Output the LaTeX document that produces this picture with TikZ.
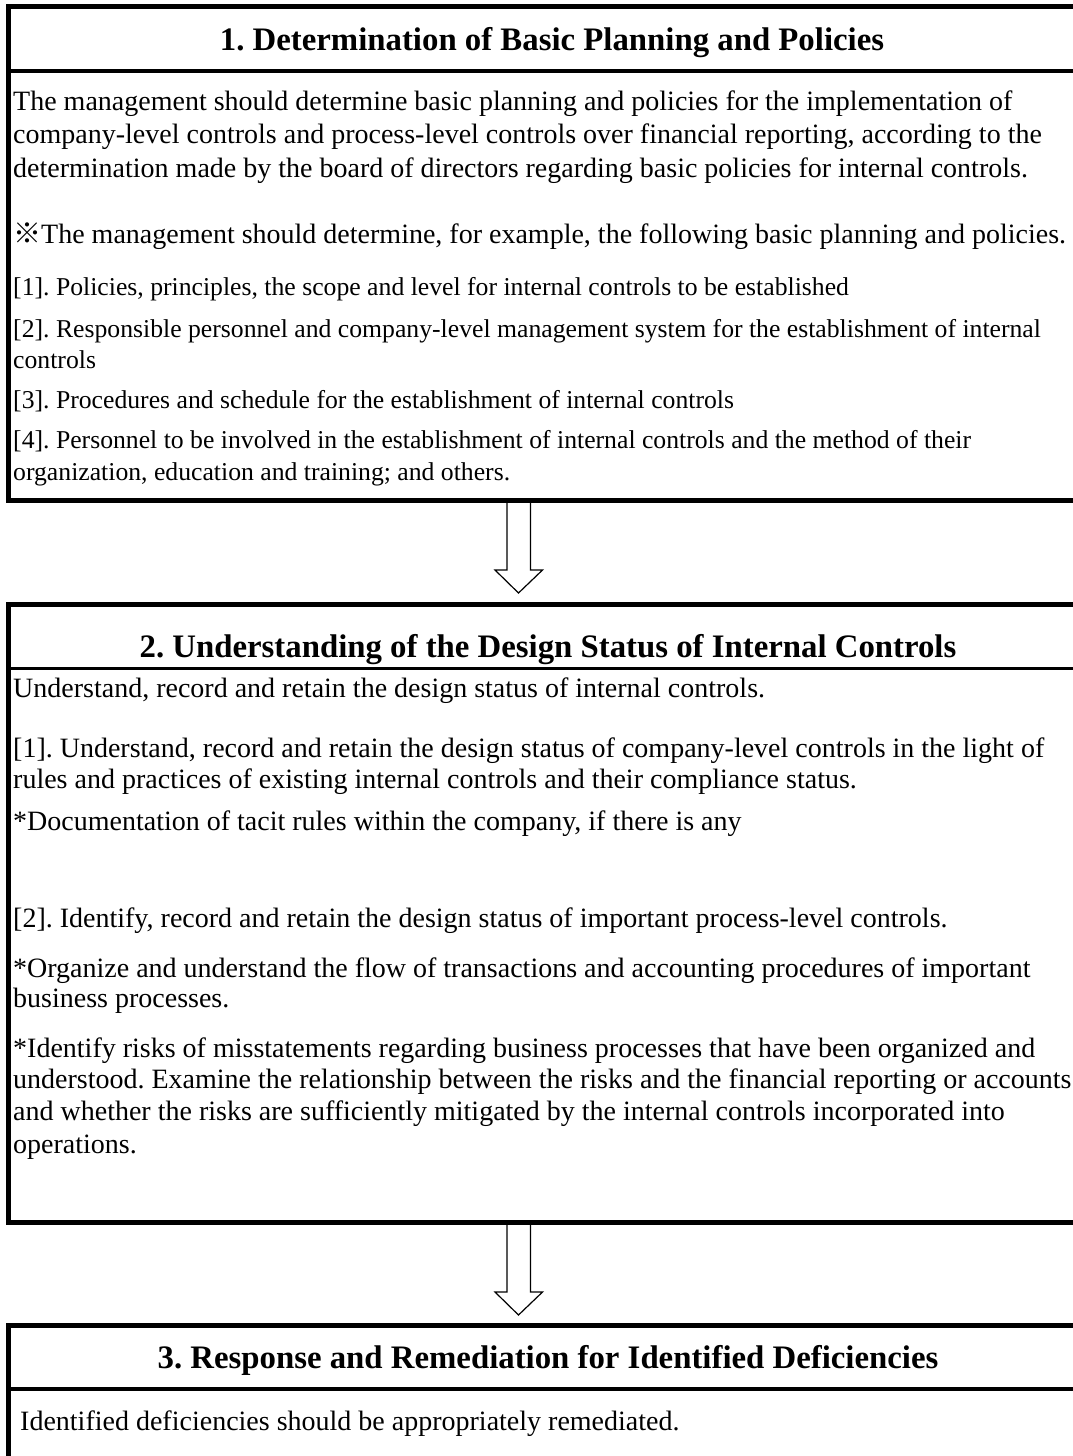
\documentclass[tikz,border=0pt]{standalone}
\usepackage{fontspec}
\setmainfont{Liberation Serif}
\newfontfamily\cjkfont{Noto Sans CJK JP}
\frenchspacing

\begin{document}
\begin{tikzpicture}[x=1pt,y=-1pt,
	frame/.style={line width=5pt},
	rule/.style={line width=3.5pt},
	head/.style={anchor=base,inner sep=0,font=\fontsize{32.8}{38}\selectfont\bfseries},
	body/.style={anchor=base west,inner sep=0,font=\fontsize{28}{32}\selectfont},
	item/.style={body,font=\fontsize{25.7}{30}\selectfont},
	blockarrow/.style={draw,line width=1.2pt,fill=white}]
	\useasboundingbox (0,0) rectangle (1073,1456);
	% connector points
	\coordinate (out1) at (518.5,500.5);
	\coordinate (in2) at (518.5,593);
	\coordinate (out2) at (518.5,1222);
	\coordinate (in3) at (518.5,1315);
	\draw[blockarrow] (out1) ++(-11.5,0) -- ++(0,69.5) -- ++(-12,0) -- (in2) -- ++(24,-23) -- ++(-12,0) -- ++(0,-69.5) -- cycle;
	\draw[blockarrow] (out2) ++(-11.5,0) -- ++(0,70) -- ++(-12,0) -- (in3) -- ++(24,-23) -- ++(-12,0) -- ++(0,-70) -- cycle;
	% box 1
	\draw[frame] (8.5,6.5) rectangle (1100,500.5);
	\draw[rule] (8.5,71) -- (1100,71);
	\node[head] (h1) at (552,50) {1. Determination of Basic Planning and Policies};
	\node[body] (p1a) at (13,110) {The management should determine basic planning and policies for the implementation of};
	\node[body] (p1b) at (13,143) {company-level controls and process-level controls over financial reporting, according to the};
	\node[body] (p1c) at (13,177) {determination made by the board of directors regarding basic policies for internal controls.};
	\node[body] (p1d) at (13,243) {{\cjkfont ※}The management should determine, for example, the following basic planning and policies.};
	\node[item] (p1e) at (13,295) {[1]. Policies, principles, the scope and level for internal controls to be established};
	\node[item] (p1f) at (13,337) {[2]. Responsible personnel and company-level management system for the establishment of internal};
	\node[item] (p1g) at (13,368) {controls};
	\node[item] (p1h) at (13,408) {[3]. Procedures and schedule for the establishment of internal controls};
	\node[item] (p1i) at (13,448) {[4]. Personnel to be involved in the establishment of internal controls and the method of their};
	\node[item] (p1j) at (13,480) {organization, education and training; and others.};
	% box 2
	\draw[frame] (8.5,604) rectangle (1100,1222);
	\draw[rule] (8.5,668.5) -- (1100,668.5);
	\node[head] (h2) at (548,657) {2. Understanding of the Design Status of Internal Controls};
	\node[body] (p2a) at (13,697) {Understand, record and retain the design status of internal controls.};
	\node[body] (p2b) at (13,757) {[1]. Understand, record and retain the design status of company-level controls in the light of};
	\node[body] (p2c) at (13,788) {rules and practices of existing internal controls and their compliance status.};
	\node[body] (p2d) at (13,830) {*Documentation of tacit rules within the company, if there is any};
	\node[body] (p2e) at (13,927) {[2]. Identify, record and retain the design status of important process-level controls.};
	\node[body] (p2f) at (13,977) {*Organize and understand the flow of transactions and accounting procedures of important};
	\node[body] (p2g) at (13,1007) {business processes.};
	\node[body] (p2h) at (13,1057) {*Identify risks of misstatements regarding business processes that have been organized and};
	\node[body] (p2i) at (13,1088) {understood. Examine the relationship between the risks and the financial reporting or accounts};
	\node[body] (p2j) at (13,1120) {and whether the risks are sufficiently mitigated by the internal controls incorporated into};
	\node[body] (p2k) at (13,1153) {operations.};
	% box 3
	\draw[frame] (8.5,1325) rectangle (1100,1500);
	\draw[rule] (8.5,1389) -- (1100,1389);
	\node[head] (h3) at (548,1368) {3. Response and Remediation for Identified Deficiencies};
	\node[body] (p3a) at (20,1430) {Identified deficiencies should be appropriately remediated.};
\end{tikzpicture}
\end{document}
